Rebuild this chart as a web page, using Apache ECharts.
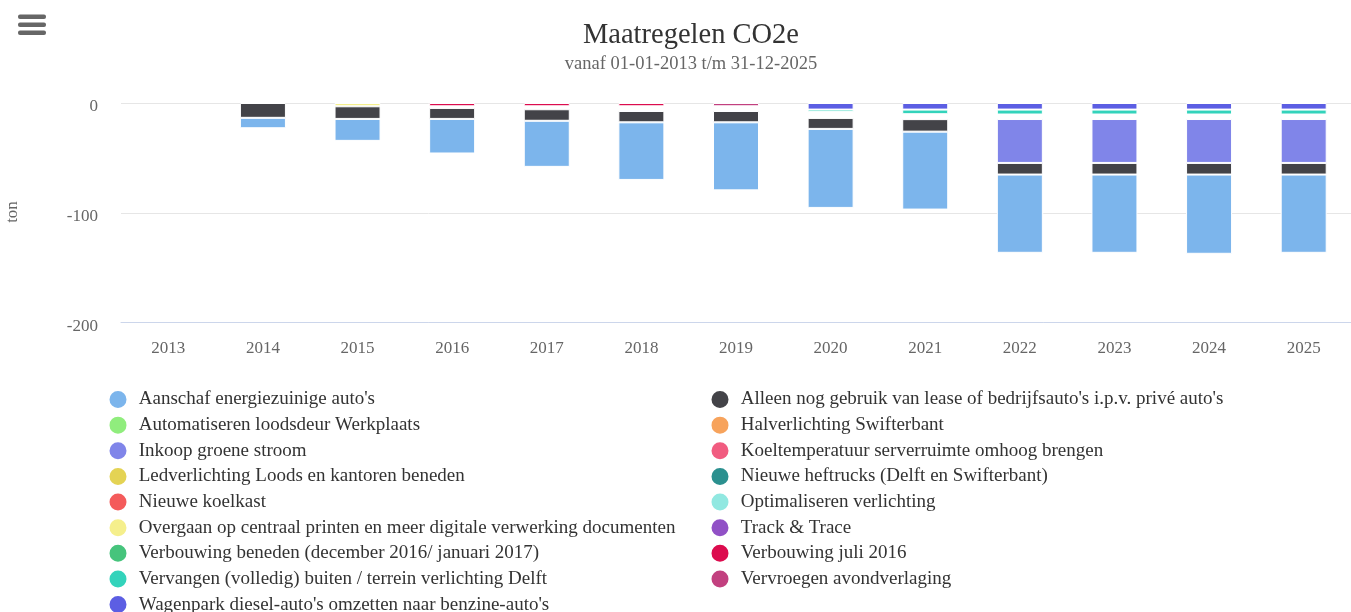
<!DOCTYPE html>
<html>
<head>
<meta charset="utf-8">
<script src="https://cdn.jsdelivr.net/npm/echarts@6/dist/echarts.min.js"></script>
<style>
  html, body { margin: 0; padding: 0; background: #fff; }
  #chart { width: 1351px; height: 612px; }
</style>
</head>
<body>
<div id="chart"></div>
<script>
const FONT = "'Liberation Serif', 'Times New Roman', serif"

const years = ['2013', '2014', '2015', '2016', '2017', '2018', '2019', '2020', '2021', '2022', '2023', '2024', '2025']

const aanschaf = [0, -9.5, -20, -31.5, -42, -52.5, -62, -72, -71, -71.3, -71.3, -72.2, -71.3]
const alleenLease = [0, -13.5, -11.5, -10, -10.5, -10.3, -10.3, -10, -11.4, -10.6, -10.6, -10.6, -10.6]
const automatiseren = [0, 0, 0, 0, 0, 0, 0, 0, 0, 0, 0, 0, 0]
const halverlichting = [0, 0, 0, 0, 0, 0, 0, 0, 0, 0, 0, 0, 0]
const inkoopStroom = [0, 0, 0, 0, 0, 0, 0, 0, 0, -40, -40, -40, -40]
const koeltemperatuur = [0, 0, 0, 0, 0, 0, 0, 0, 0, 0, 0, 0, 0]
const ledverlichting = [0, 0, 0, 0, 0, 0, 0, 0, 0, 0, 0, 0, 0]
const heftrucks = [0, 0, 0, 0, 0, 0, 0, 0, 0, 0, 0, 0, 0]
const koelkast = [0, 0, 0, 0, 0, 0, 0, 0, 0, 0, 0, 0, 0]
// lege ruimte in de stapel (zichtbaar als witte strook)
const tussenruimte = [0, 0, 0, -1.5, -2.7, -4.3, -4.3, -5.3, -4.5, -4.1, -4.1, -4.1, -4.1]
const optimaliseren = [0, 0, 0, 0, 0, 0, 0, 0, 0, 0, 0, 0, 0]
const printen = [0, 0, -3, 0, 0, 0, 0, 0, 0, 0, 0, 0, 0]
const trackTrace = [0, 0, 0, 0, 0, 0, 0, 0, 0, 0, 0, 0, 0]
const verbouwingBeneden = [0, 0, 0, 0, 0, 0, 0, 0, 0, 0, 0, 0, 0]
const verbouwingJuli = [0, 0, 0, -3, -3, -3, 0, 0, 0, 0, 0, 0, 0]
const buitenverlichting = [0, 0, 0, 0, 0, 0, 0, -2.3, -4.2, -4.5, -4.5, -4.5, -4.5]
const avondverlaging = [0, 0, 0, 0, 0, 0, -3, 0, 0, 0, 0, 0, 0]
const wagenpark = [0, 0, 0, 0, 0, 0, 0, -6, -6, -6, -6, -6, -6]

// volgorde in de legenda (alfabetisch)
const names = [
  "Aanschaf energiezuinige auto's",
  "Alleen nog gebruik van lease of bedrijfsauto's i.p.v. privé auto's",
  'Automatiseren loodsdeur Werkplaats',
  'Halverlichting Swifterbant',
  'Inkoop groene stroom',
  'Koeltemperatuur serverruimte omhoog brengen',
  'Ledverlichting Loods en kantoren beneden',
  'Nieuwe heftrucks (Delft en Swifterbant)',
  'Nieuwe koelkast',
  'Optimaliseren verlichting',
  'Overgaan op centraal printen en meer digitale verwerking documenten',
  'Track & Trace',
  'Verbouwing beneden (december 2016/ januari 2017)',
  'Verbouwing juli 2016',
  'Vervangen (volledig) buiten / terrein verlichting Delft',
  'Vervroegen avondverlaging',
  "Wagenpark diesel-auto's omzetten naar benzine-auto's"
]
const values = [aanschaf, alleenLease, automatiseren, halverlichting, inkoopStroom, koeltemperatuur,
  ledverlichting, heftrucks, koelkast, optimaliseren, printen, trackTrace, verbouwingBeneden,
  verbouwingJuli, buitenverlichting, avondverlaging, wagenpark]
const colors = ['#7cb5ec', '#434348', '#90ed7d', '#f7a35c', '#8085e9', '#f15c80', '#e4d354',
  '#2b908f', '#f45b5b', '#91e8e1', '#f5ef8c', '#9151c6', '#46c47c', '#dc0c4e', '#33d3bb', '#c2407f', '#5c5ee3']

const chart = echarts.init(document.getElementById('chart'))

// nullen niet tekenen, anders knippen lege staven de nul-lijn door
const noZero = (arr) => arr.map(v => (v === 0 ? null : v))

// laatste legenda-item ligt het dichtst bij nul, dus van achter naar voren stapelen
let series = []
for (let i = names.length - 1; i >= 0; i--) {
  series.push({
    name: names[i],
    type: 'bar',
    stack: 'co2',
    barWidth: 46,
    data: noZero(values[i]),
    itemStyle: { color: colors[i], borderColor: '#fff', borderWidth: 1 },
    emphasis: { disabled: true }
  })
  if (i === 9) {
    series.push({
      name: 'tussenruimte',
      type: 'bar',
      stack: 'co2',
      barWidth: 46,
      data: noZero(tussenruimte),
      itemStyle: { color: 'rgba(255,255,255,0)', borderWidth: 0 },
      emphasis: { disabled: true }
    })
  }
}

const legendText = { fontFamily: FONT, fontSize: 19, color: '#333', lineHeight: 19 }

const option = {
  animation: false,
  color: colors,
  graphic: [
    { type: 'rect', left: 18, top: 14.5, shape: { width: 28, height: 4.5, r: 2 }, style: { fill: '#666' } },
    { type: 'rect', left: 18, top: 22.5, shape: { width: 28, height: 4.5, r: 2 }, style: { fill: '#666' } },
    { type: 'rect', left: 18, top: 30.5, shape: { width: 28, height: 4.5, r: 2 }, style: { fill: '#666' } },
    {
      type: 'text', x: 691, y: 36,
      style: { text: 'Maatregelen CO2e', fontFamily: FONT, fontSize: 28.5, fill: '#333', align: 'center', verticalAlign: 'middle' }
    },
    {
      type: 'text', x: 691, y: 64.5,
      style: { text: 'vanaf 01-01-2013 t/m 31-12-2025', fontFamily: FONT, fontSize: 18.5, fill: '#666', align: 'center', verticalAlign: 'middle' }
    },
    {
      type: 'text', x: 13, y: 212, rotation: Math.PI / 2,
      style: { text: 'ton', fontFamily: FONT, fontSize: 17, fill: '#666', align: 'center', verticalAlign: 'middle' }
    }
  ],
  legend: [
    {
      orient: 'vertical', left: 107.5, top: 389, height: 260, padding: 0,
      itemWidth: 31.5, itemHeight: 19, itemGap: 4.63, icon: 'circle',
      textStyle: legendText,
      data: names.filter((n, i) => i % 2 === 0)
    },
    {
      orient: 'vertical', left: 709.5, top: 389, height: 260, padding: 0,
      itemWidth: 31.5, itemHeight: 19, itemGap: 4.63, icon: 'circle',
      textStyle: legendText,
      data: names.filter((n, i) => i % 2 === 1)
    }
  ],
  grid: { left: 121, right: 0, top: 103, bottom: 289.5, containLabel: false },
  xAxis: {
    type: 'category',
    data: years,
    axisLine: { onZero: false, lineStyle: { color: '#ccd6eb', width: 1 } },
    axisTick: { show: false },
    axisLabel: { color: '#666', fontFamily: FONT, fontSize: 17, margin: 17.5 },
    splitLine: { show: false }
  },
  yAxis: {
    type: 'value',
    min: -200,
    max: 0,
    interval: 100,
    axisLine: { show: false },
    axisTick: { show: false },
    axisLabel: {
      margin: 23,
      formatter: '{t|{value}}',
      rich: { t: { color: '#666', fontFamily: FONT, fontSize: 17, padding: [8, 0, 0, 0] } }
    },
    splitLine: { lineStyle: { color: '#e6e6e6', width: 1 } }
  },
  series: series
}

chart.setOption(option)
</script>
</body>
</html>
